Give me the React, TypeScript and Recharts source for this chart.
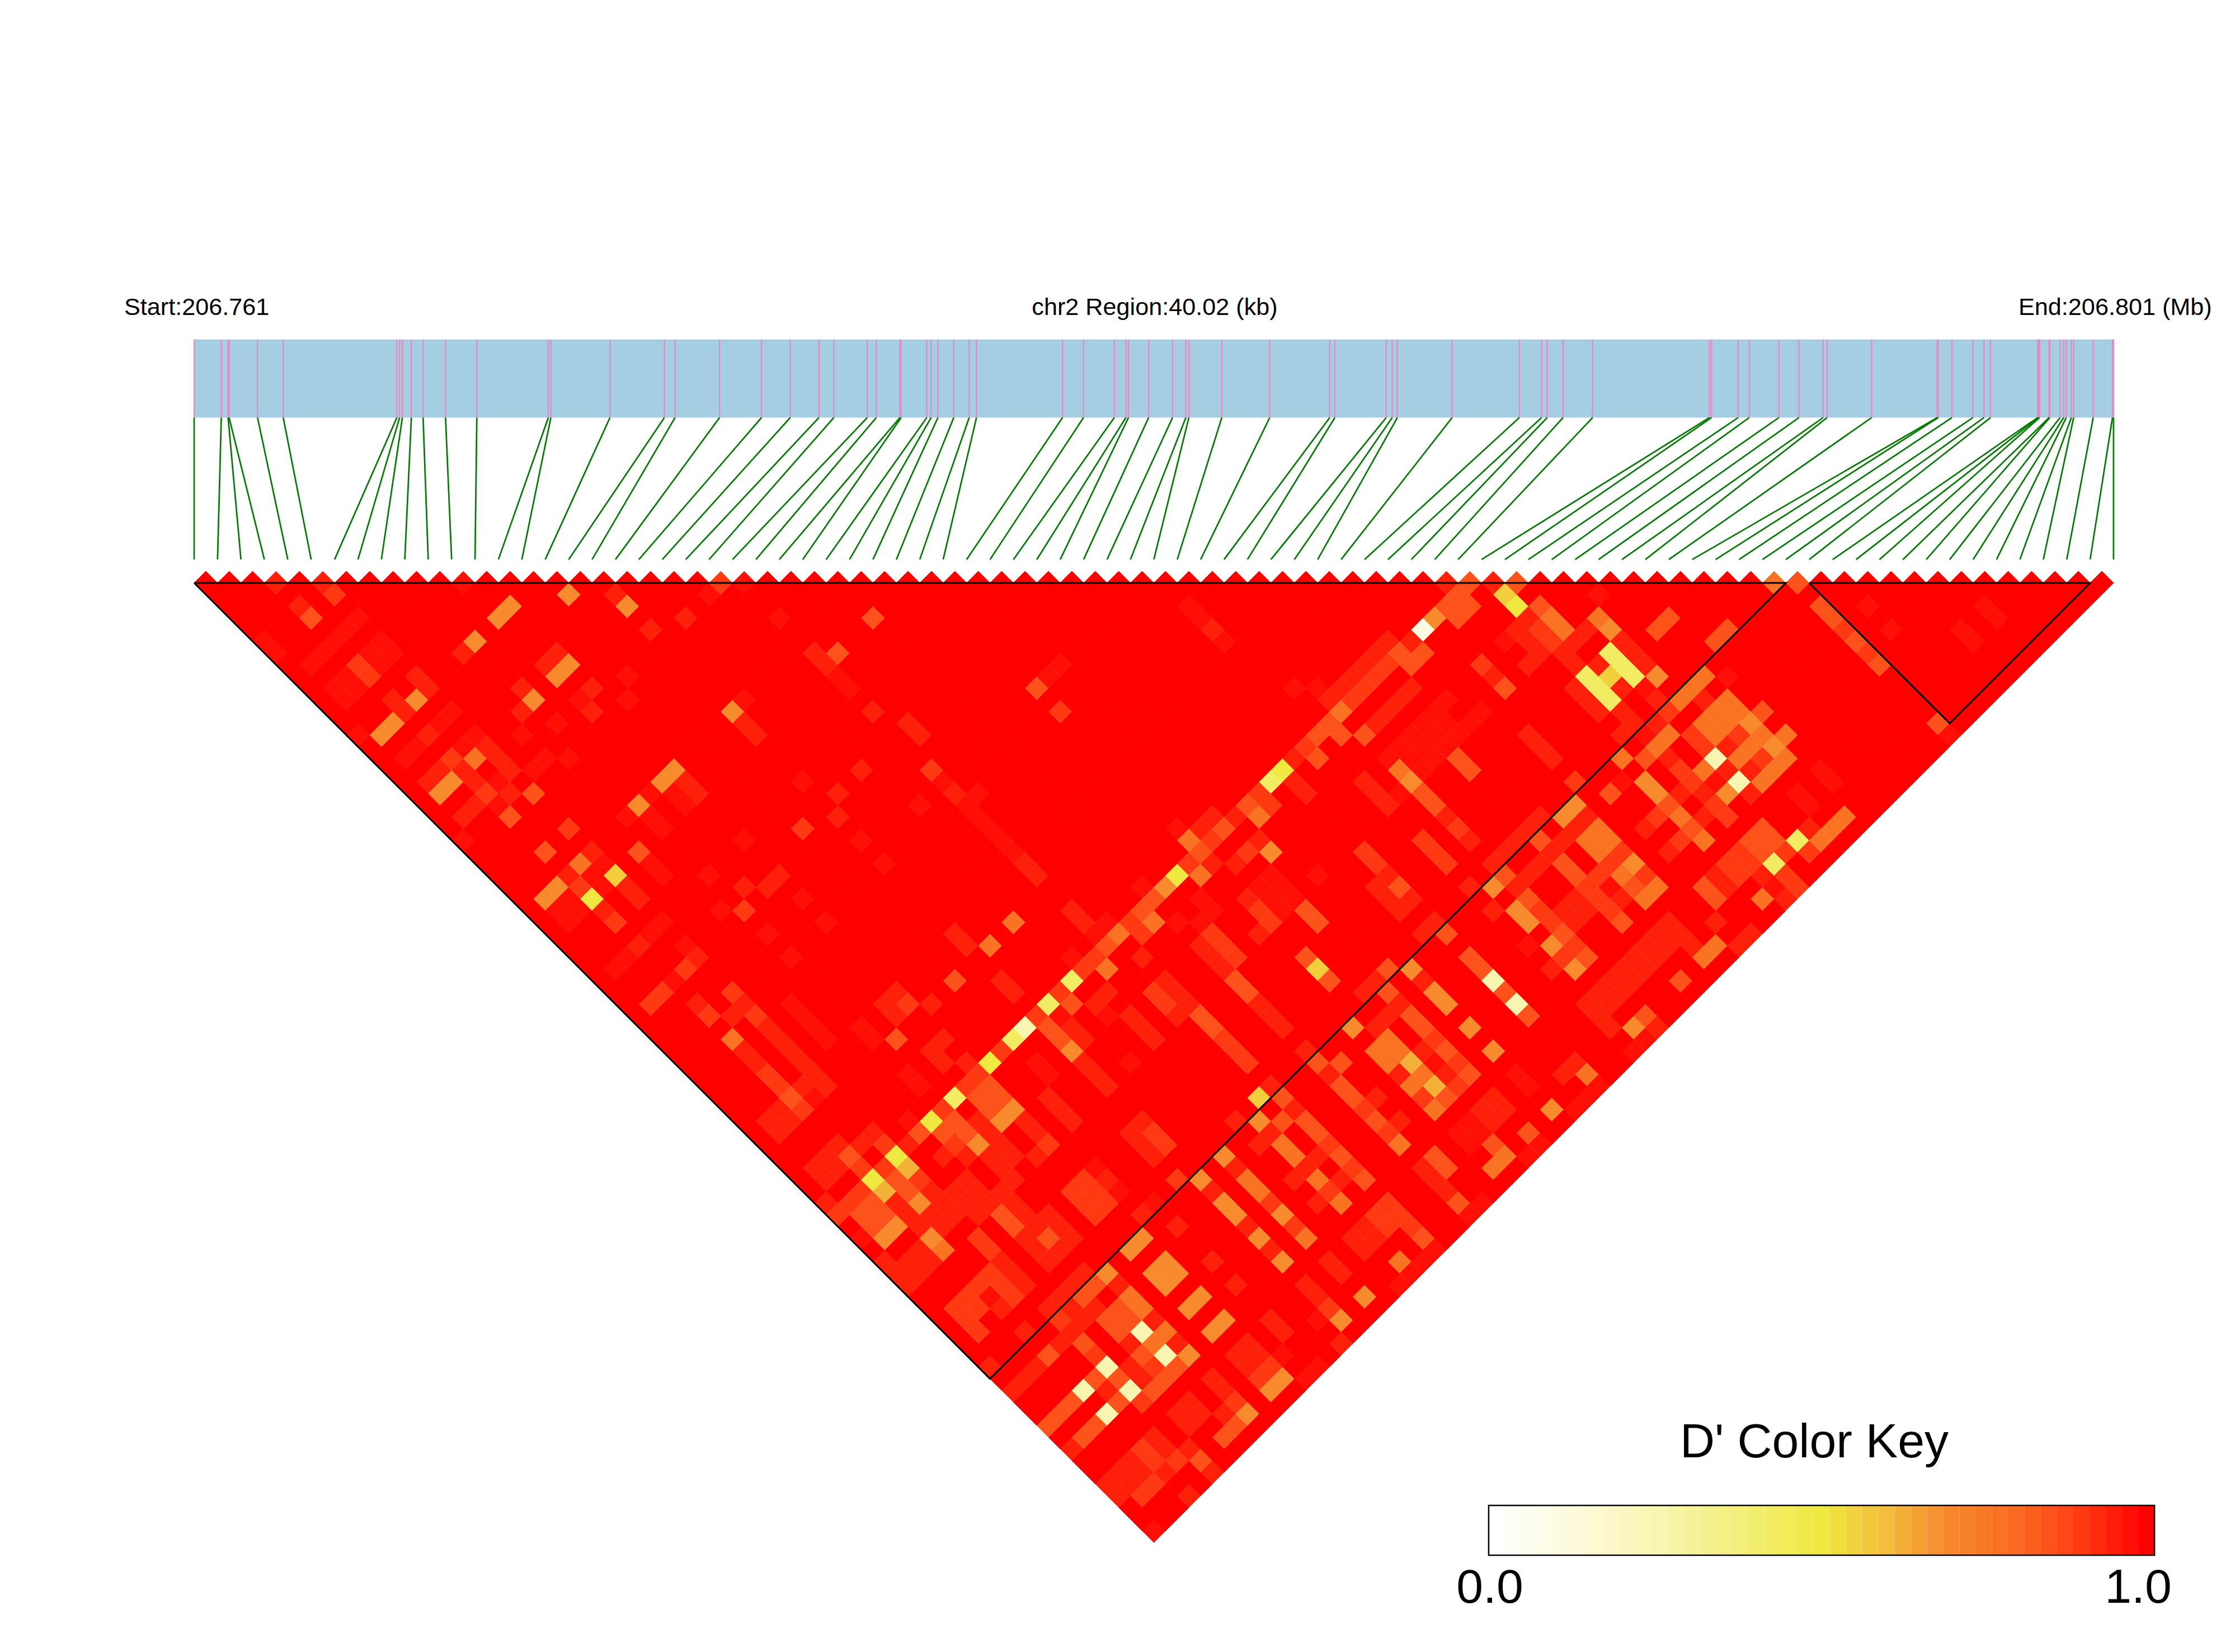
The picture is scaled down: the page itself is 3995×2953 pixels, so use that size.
import { ScatterChart, Scatter, XAxis, YAxis, ReferenceArea, ReferenceLine } from "recharts";

// D' levels
const A = 0.975, B = 0.945, C = 0.9, D = 0.85, E = 0.77, F = 0.69, G = 0.62, H = 0.56, I = 0.5, J = 0.42, K = 0.25, L = 0.1;

// SNP positions in kb from region start
const snpKb = [
  0, 0.566, 0.708, 0.729, 1.322, 1.858, 4.227, 4.284, 4.342, 4.529, 4.774, 5.242, 5.894, 7.385, 7.438, 8.67, 9.804,
  10.027, 10.955, 11.83, 12.429, 13.027, 13.338, 14.035, 14.222, 14.714, 14.741, 15.276, 15.366, 15.508, 15.838, 16.16,
  16.312, 18.106, 18.543, 19.186, 19.427, 19.481, 19.901, 20.4, 20.677, 20.74, 21.427, 22.426, 23.677, 23.784, 24.855,
  24.98, 25.087, 26.23, 27.631, 28.095, 28.211, 28.542, 29.158, 31.594, 31.639, 32.193, 32.424, 33.041, 33.46, 33.965,
  34.048, 34.976, 36.346, 36.364, 36.65, 37.088, 37.318, 37.455, 38.437, 38.455, 38.478, 38.677, 38.691, 38.904, 38.98,
  39.034, 39.14, 39.188, 39.596, 39.998, 40.02,
];
const regionKb = 40.02;

// [a + b, b - a - 1, D'] for every pair that is not 1.0; the rest of the triangle is 1.0
const cellsLeft = [
  [7,0,B],[11,0,B],[23,0,A],[12,1,C],[9,2,B],[10,3,D],[14,3,A],[13,4,A],[12,5,A],[11,6,A],[10,7,A],[6,5,A],[7,6,A],[16,5,A],[17,6,A],[16,7,A],[15,6,A],[14,7,C],[15,8,C],[13,8,A],[12,9,A],[14,9,A],[13,10,A],
  [19,8,B],[20,9,B],[17,10,B],[18,11,B],[19,10,F],[22,11,A],[21,12,A],[20,13,B],[19,14,A],[18,15,A],[17,12,F],[16,13,F],[14,13,A],[27,2,F],[26,3,F],[32,1,F],[36,1,B],[37,2,F],[39,4,B],[42,3,B],[24,5,F],[23,6,B],
  [31,6,B],[30,7,B],[32,7,F],[31,8,F],[28,9,B],[29,10,F],[28,11,B],[34,9,B],[33,10,A],[34,11,B],[37,8,A],[37,10,A],[31,12,A],[28,13,A],[24,13,A],[23,14,A],[25,14,B],[26,15,B],[22,15,C],[24,15,E],[21,16,B],[20,17,B],
  [22,17,F],[21,18,F],[23,16,B],[24,17,B],[25,18,C],[26,17,A],[29,16,A],[30,15,A],[27,16,B],[27,18,B],[29,18,D],[32,15,A],[23,20,B],[24,19,B],[26,19,A],[27,20,D],[23,22,A],[32,21,C],[30,23,D],[38,23,D],[39,24,A],[40,25,A],
  [34,23,B],[35,24,A],[33,24,E],[32,25,B],[31,26,F],[30,27,F],[33,26,C],[34,27,I],[36,25,H],[35,26,A],[34,25,A],[37,26,B],[38,27,B],[35,28,B],[36,29,C],[32,27,A],[31,28,A],[33,28,A],[32,29,A],[40,29,A],[39,30,A],[38,31,B],
  [37,32,A],[36,33,A],[42,31,A],[42,33,C],[41,34,A],[40,35,C],[39,36,C],[41,16,F],[40,17,F],[42,17,B],[41,18,A],[39,18,A],[38,19,F],[37,20,A],[39,20,A],[40,21,A],[42,19,A],[43,18,B],[43,32,B],
];

const cellsUpperMid = [
  [45,0,C],[47,0,A],[44,1,A],[50,3,A],[58,3,D],[53,6,B],[54,7,B],[55,6,D],[55,8,A],[56,9,A],[74,7,A],[73,8,A],[72,9,D],[74,11,C],[85,2,A],[46,11,F],[47,10,A],[47,12,B],[48,13,B],[58,11,B],[61,12,B],[62,13,B],[57,16,B],
  [63,16,C],[64,17,A],[65,18,B],[67,18,A],[66,19,A],[67,20,A],[68,21,A],[69,22,A],[70,23,A],[71,24,B],[72,25,B],[52,17,A],[55,18,B],[55,20,B],[62,19,A],[52,21,C],[47,22,A],[57,22,A],[59,24,A],[44,25,A],[47,26,B],[50,25,B],
  [49,26,B],[52,27,A],[45,28,A],[47,28,C],[54,29,A],[49,30,A],[51,32,A],[70,29,E],[68,31,E],[65,30,B],[66,31,B],[65,34,D],[69,34,B],[70,35,B],[75,28,B],[76,29,B],[78,29,A],[77,30,A],[79,30,E],[78,31,D],[77,32,C],[76,33,C],
  [75,32,A],[78,33,E],[75,34,J],[74,35,C],[73,36,J],[72,37,D],[75,36,D],[78,35,B],[77,36,B],[81,26,A],[82,27,D],[81,28,D],[80,29,C],[81,30,C],[82,29,E],[84,29,A],[83,26,F],[84,25,I],[85,24,C],[85,22,E],[84,21,A],[81,32,B],
  [83,34,B],[82,35,C],[84,35,B],[83,36,B],[85,36,B],[80,37,B],[46,35,C],[47,36,B],[43,36,B],[44,37,C],[46,37,B],[48,37,C],[51,36,A],[52,37,A],[60,35,A],[59,36,B],[61,36,C],[60,37,B],[63,36,B],
];

const cellsUpperRight = [
  [109,0,D],[111,0,B],[113,0,D],[107,0,B],[108,1,D],[107,2,D],[109,2,D],[108,3,D],[106,3,F],[105,4,L],[104,5,B],[105,6,D],[104,7,D],[103,6,D],[102,5,B],[101,6,B],[102,7,C],[100,7,B],[101,8,C],[99,8,B],[100,9,C],[99,10,C],
  [98,11,E],[98,9,B],[97,10,B],[96,9,A],[94,9,A],[97,12,D],[98,13,D],[96,13,D],[95,14,C],[96,15,D],[94,15,B],[93,16,I],[92,17,J],[94,17,B],[95,18,B],[92,19,C],[91,18,C],[90,19,D],[91,20,E],[89,20,B],[87,20,B],[88,21,D],
  [87,22,C],[86,23,D],[87,24,B],[86,21,B],[89,24,B],[90,23,C],[91,22,B],[92,23,F],[86,25,E],[96,25,A],[100,13,D],[101,12,B],[102,11,B],[103,10,B],[104,9,B],[110,7,C],[111,8,B],[112,9,D],[112,1,H],[113,2,I],[114,2,B],[115,2,D],
  [116,3,E],[117,4,E],[114,3,B],[115,4,C],[113,4,B],[112,5,A],[114,5,B],[116,5,C],[115,6,B],[114,7,B],[117,6,B],[118,7,B],[118,5,B],[119,4,B],[120,3,E],[121,4,F],[120,1,A],[125,4,D],[126,3,D],[121,6,J],[122,7,J],[123,8,J],
  [121,8,H],[120,7,B],[119,8,J],[120,9,J],[121,10,J],[118,9,B],[119,10,B],[120,11,B],[122,9,B],[122,11,B],[125,8,F],[124,7,B],[123,6,B],[122,5,B],[124,9,A],[125,10,B],[126,11,C],[127,10,E],[128,9,E],[123,12,B],[122,13,B],
  [124,13,A],[125,12,B],[126,13,E],[125,14,E],[124,15,D],[122,15,E],[128,13,C],[126,15,B],[127,16,B],[128,17,C],[121,18,D],[122,17,A],[124,17,F],[125,18,F],[126,19,D],[127,20,E],[128,21,D],[125,20,C],[124,21,B],[127,18,B],
  [127,22,B],[126,23,B],[118,17,C],[118,19,F],[117,20,F],[119,20,B],[120,21,E],[119,22,E],[121,22,E],[120,23,E],[122,23,C],[123,24,F],[121,24,C],[122,25,E],[124,25,C],[125,26,E],[124,27,E],[123,26,D],[120,25,C],[121,26,A],
  [119,26,C],[117,24,D],[118,25,D],[120,27,C],[121,28,C],[122,29,D],[122,27,B],[115,23,D],[115,20,B],[114,21,B],[113,22,B],[112,23,B],[111,24,B],[115,22,D],[112,25,D],[111,26,F],[109,26,B],[118,21,B],[117,22,B],[116,23,B],
  [115,24,B],[114,25,B],[113,26,B],[114,27,D],[115,28,C],[116,29,C],[117,30,D],[118,31,C],[119,32,D],[118,33,F],[116,31,F],[117,28,B],[118,27,B],[119,28,B],[113,28,F],[114,29,F],[111,28,B],[114,31,A],[116,33,B],[117,32,C],
  [118,29,B],[125,30,B],[124,31,B],[123,32,B],[122,33,B],[121,34,B],[126,29,B],[127,30,B],[128,31,B],[126,31,B],[125,32,B],[124,33,B],[123,34,B],[122,35,B],[120,35,B],[119,36,B],[121,36,B],[127,34,D],
  [87,4,B],[88,5,A],[86,3,A],[92,25,A],[91,26,A],[93,26,A],[92,27,A],[94,27,A],[93,28,A],[90,27,B],[95,28,D],[96,29,D],[91,28,C],[92,29,C],[91,30,B],[87,30,C],[88,31,C],[89,32,C],[86,31,B],[87,32,B],[88,33,B],[89,34,D],
  [90,35,D],[91,36,B],[92,37,B],[86,29,A],[86,27,A],[87,28,A],[95,32,D],[96,33,H],[97,34,D],[102,33,D],[101,34,B],[100,35,B],[102,35,D],[104,33,F],[105,34,B],[106,35,F],[107,36,F],[103,36,D],[109,32,D],[110,33,D],[111,34,K],
  [112,35,D],[113,36,K],[114,37,D],[106,30,B],[105,29,B],[107,30,D],[106,29,B],[105,30,B],[103,26,D],[102,25,B],[101,26,B],[102,27,B],[103,28,B],[104,27,B],[100,23,C],[101,24,C],[105,22,C],[106,23,C],[107,24,C],[103,16,E],
  [104,17,F],[105,18,D],[106,19,D],[107,20,B],[108,21,C],[109,22,B],[102,19,B],[100,17,B],[101,18,B],[103,18,A],[108,16,D],[109,16,D],[108,15,D],[106,11,A],[105,12,A],[104,13,A],[103,14,A],[102,15,A],[107,12,A],[106,13,A],
  [105,14,A],[104,15,A],[106,15,A],[105,16,A],[107,10,A],[108,13,A],[109,12,A],[110,11,A],[107,14,A],[114,13,B],[115,14,B],[116,15,B],
  [135,0,E],[137,0,D],[139,2,D],[140,3,D],[141,4,C],[142,5,D],[143,6,C],[144,7,D],[143,2,A],[145,4,A],[151,4,A],[152,5,A],[153,2,A],[154,3,A],[149,12,D],[150,13,A],[131,4,D],[130,5,D],[129,8,E],[128,9,E],[127,10,E],[131,8,A],
  [129,10,B],[131,10,E],[132,11,E],[130,11,E],[129,12,E],[131,12,E],[130,13,E],[134,11,D],[133,12,F],[132,13,C],[134,13,E],[136,13,E],[133,14,E],[135,14,F],[131,14,B],[130,15,K],[129,16,E],[132,15,E],[134,15,C],[133,16,B],
  [136,15,E],[135,16,E],[134,17,E],[132,17,K],[131,18,F],[133,18,B],[131,16,B],[130,17,A],[128,13,C],[129,14,C],[128,17,C],[129,18,B],[127,16,C],[127,18,B],[130,19,C],[131,20,C],[129,20,B],[127,20,E],[128,21,D],[129,22,E],
  [127,22,C],[137,18,A],[138,19,A],[139,16,A],[140,17,A],[141,20,E],[140,21,E],[139,22,E],[138,21,B],[137,22,J],[138,23,C],[136,23,C],[135,24,J],[136,25,C],[137,26,C],[136,27,B],[134,21,D],[133,22,D],[135,22,D],[134,23,D],
  [132,23,C],[133,24,C],[131,24,C],[132,25,C],[130,25,B],[131,26,B],[129,26,D],[130,27,D],[134,25,B],[135,26,A],[134,27,E],[131,29,B],[128,28,B],[129,29,B],[127,29,B],[128,30,B],[133,30,B],[132,31,B],[130,31,E],[129,32,E],[127,34,D],[130,29,B],
];

const cellsLower = [
  [46,39,E],[47,40,B],[48,41,B],[49,42,C],[50,43,C],[51,44,D],[52,45,C],[48,37,C],[49,38,B],[50,39,B],[51,40,B],[52,41,B],[46,37,B],[53,42,B],[52,43,B],[54,43,B],[53,44,A],[50,45,B],[49,46,B],[51,46,B],[50,47,B],[51,36,A],[52,37,A],
  [53,38,A],[54,39,A],[57,38,A],[58,39,A],[60,39,D],[60,35,B],[59,36,B],[61,36,C],[60,37,B],[63,36,B],[61,42,A],[62,43,A],[64,39,B],[63,40,B],[64,41,B],[66,41,B],[67,42,C],[66,43,C],[65,44,J],[64,45,C],[63,46,I],[62,47,D],
  [61,48,B],[60,49,I],[59,50,C],[58,51,I],[57,52,C],[61,46,A],[59,48,C],[58,47,B],[57,48,B],[56,49,D],[55,48,B],[54,49,B],[53,50,B],[55,50,B],[54,51,B],[57,50,C],[61,50,G],[62,51,C],[60,51,D],[59,52,G],[61,52,D],[62,53,F],
  [63,52,B],[65,46,D],[66,47,D],[67,48,F],[65,48,C],[64,47,D],[66,49,B],[64,49,B],[68,43,D],[67,44,D],[69,44,D],[68,45,D],[70,45,F],[69,46,F],[67,46,B],[68,47,B],[69,48,B],[70,49,B],[71,46,B],[72,47,B],[73,48,C],[72,49,B],
  [66,51,B],[65,52,B],[67,52,B],[64,53,B],[66,53,B],[68,53,B],[63,54,B],[65,54,B],[67,54,B],[64,55,B],[69,52,B],[70,51,B],[69,50,B],[68,49,B],[70,53,B],[71,54,B],[69,54,D],[70,55,D],[73,54,B],[74,55,B],[75,56,B],[72,55,B],
  [71,56,B],[73,56,D],[74,57,B],[72,57,B],[73,58,B],[67,56,C],[68,57,C],[63,56,F],[64,57,E],[62,55,B],[61,54,B],[60,53,B],[60,55,F],[59,56,F],[58,54,D],[57,55,D],[59,54,D],[58,55,D],[57,54,D],[58,53,D],[55,54,C],[56,53,C],
  [54,53,B],[57,56,A],[59,58,B],[62,57,B],[61,58,B],[63,58,B],[62,59,B],[60,59,B],[61,60,B],[68,58,C],[69,58,B],[70,59,B],[71,60,B],[68,59,C],[69,60,C],[70,61,C],[67,60,C],[66,61,C],[65,62,C],[67,62,C],[66,63,C],[67,64,C],
  [69,62,B],[68,61,A],[71,64,B],[68,67,B],[76,59,B],[75,60,B],[74,61,B],[73,62,B],[74,63,C],[75,62,B],[76,61,D],[77,60,D],[78,59,F],[79,60,B],[77,62,B],[76,63,B],[75,64,B],[74,65,B],[73,66,D],[80,61,E],[79,62,D],[78,63,D],
  [80,63,D],[81,62,E],[79,64,D],[81,64,K],[82,63,B],[83,64,E],[83,66,K],[85,66,F],[84,65,B],[82,65,E],[81,66,D],[80,65,B],[82,67,C],[80,67,B],[78,67,K],[77,66,C],[76,65,D],[77,68,D],[76,69,K],[75,70,D],[74,71,D],[73,72,D],
  [78,69,B],[79,68,D],[80,69,K],[79,70,D],[78,71,K],[77,72,D],[81,70,C],[81,68,B],[83,68,D],[82,69,D],[84,67,D],[72,67,B],[71,68,B],[70,69,B],[83,58,F],[82,59,F],[84,59,F],[83,60,F],[81,56,F],[80,57,F],[86,61,F],[85,62,F],
  [88,63,F],[87,64,F],[87,68,B],[88,69,B],[85,70,B],[84,71,B],[86,71,B],[85,72,B],[88,71,B],[84,55,B],[82,53,A],[81,54,B],[84,51,C],[86,51,F],[87,52,B],[88,53,F],[88,49,F],[77,50,A],[76,51,C],[78,51,B],[75,52,C],[77,52,C],
  [79,52,A],[76,53,C],[78,53,C],[77,54,C],[81,46,B],[80,47,B],[82,47,C],[81,48,B],[83,48,C],[82,49,B],[80,41,A],[72,41,A],[73,42,A],[73,44,B],[74,45,B],[75,46,B],[78,35,B],[77,36,B],[78,37,A],[75,36,D],[74,35,C],[73,36,J],
  [71,38,K],[70,39,J],[69,40,C],[68,41,I],[72,37,C],[73,38,D],[74,39,D],[75,40,F],[76,41,B],[77,42,B],[78,43,B],[75,38,B],[76,39,B],[74,37,A],[80,37,B],[81,38,B],[82,39,B],[82,35,C],[83,36,C],[84,37,B],[86,37,D],[87,38,D],
  [88,39,C],[89,40,C],[90,41,C],[84,37,B],[91,36,B],[92,37,B],[93,38,B],[95,40,B],[96,41,D],[98,41,D],[97,42,B],[98,43,D],[99,44,D],[100,45,C],[101,46,D],[102,47,C],[103,48,E],[101,44,B],[103,46,B],[92,43,B],[91,44,H],[93,44,D],
  [94,45,B],[93,46,D],[91,46,F],[89,46,B],[95,46,D],[96,47,D],[97,48,C],[98,49,D],[99,50,C],[100,51,D],[96,49,B],[92,47,B],[91,48,B],[93,48,E],[94,49,E],[95,50,B],[94,51,B],[96,51,E],[98,51,B],[97,52,C],[96,53,B],[98,53,E],
  [89,50,B],[90,51,E],[91,52,E],[92,53,C],[93,54,F],[94,55,C],[95,56,E],[87,52,B],[89,54,F],[90,55,B],[91,56,F],[92,57,B],[93,58,F],[84,51,C],[87,58,B],[89,60,B],[97,58,B],[98,59,B],[95,60,B],[96,61,B],[97,62,C],[98,63,F],[96,63,A],
  [100,61,F],[98,65,B],[92,63,B],[93,64,B],[90,65,B],[89,66,B],[91,66,B],[90,67,B],[93,66,A],[92,67,C],[91,68,C],[93,68,F],[92,69,F],[95,68,A],[96,67,A],[87,68,B],[88,69,B],[89,70,C],[90,71,F],[89,72,D],[88,73,D],[88,71,B],
  [102,53,C],[103,54,C],[101,54,C],[102,55,C],[100,55,B],[99,56,B],[101,56,B],[100,57,B],[104,55,C],[105,56,D],[106,57,A],[103,58,E],[105,58,A],[104,59,A],[103,60,A],[106,49,D],[107,50,D],[105,50,B],[106,51,B],[107,52,B],[108,53,D],
  [109,54,A],[110,53,A],[111,44,B],[110,45,B],[112,45,B],[111,46,B],[108,47,A],[109,46,A],[109,48,A],[110,47,A],[113,42,A],[114,43,A],[111,48,D],[112,49,E],[111,50,E],[114,47,D],[115,48,A],[114,49,A],[116,45,F],[119,44,A],[118,45,A],
  [118,41,B],[117,42,B],[119,42,E],[120,43,A],[119,36,B],[120,37,B],[121,38,B],[120,35,B],[121,36,B],[124,37,D],[123,38,F],[124,39,A],[123,40,A],[125,38,B],[109,38,F],[111,40,F],[106,35,F],[107,36,F],[111,34,K],[113,36,K],[112,35,D],
  [114,37,D],[102,35,D],[103,36,B],[104,37,D],[105,38,D],[106,39,C],[107,40,D],[108,41,C],[109,42,D],[102,37,B],[101,38,B],[99,38,F],[102,39,E],[101,40,E],[103,40,E],[102,41,E],[104,41,G],[103,42,B],[105,42,E],[104,43,E],
  [105,40,B],[106,41,A],[107,42,B],[106,43,G],[105,44,C],[107,44,D],[106,45,E],[108,43,C],
  [82,73,B],[83,74,B],[81,74,C],[82,75,C],[80,75,B],[79,76,B],[81,76,B],[78,77,B],[80,77,B],[79,78,B],[81,78,C],[82,77,C],[83,76,B],[84,75,C],[85,74,B],[86,75,D],[87,76,B],[85,78,B],[82,81,A],[85,70,B],[75,74,B],[76,73,D],[77,72,D],
];

// colour ramp of the key, from value to colour
const rampValues = [0, 0.25, 0.5, 0.6, 0.69, 0.8, 0.9, 1];
const rampColors = ["#ffffff", "#f8f5b0", "#efe83f", "#f4bc3c", "#f68a2c", "#fa6a20", "#ff3a12", "#ff0000"];

function colorOf(d: number) {
  let i = 0;
  while (i < rampValues.length - 2 && d > rampValues[i + 1]) i++;
  const t = (d - rampValues[i]) / (rampValues[i + 1] - rampValues[i]);
  const c = (s: string, o: number) => parseInt(s.slice(o, o + 2), 16);
  const mix = (o: number) => Math.round(c(rampColors[i], o) * (1 - t) + c(rampColors[i + 1], o) * t);
  return `rgb(${mix(1)},${mix(3)},${mix(5)})`;
}

const W = 3995;
const HT = 2953;
const unit = 20.92; // px per half SNP step
const originX = 347;
const originY = 1042;

const lookup = new Map<string, number>();
[...cellsLeft, ...cellsUpperMid, ...cellsUpperRight, ...cellsLower].forEach(([s, l, d]) => lookup.set(`${s},${l}`, d));

const n = snpKb.length;
const allCells: { x: number; y: number; d: number }[] = [];
for (let a = 0; a < n - 1; a++) {
  for (let b = a + 1; b < n; b++) {
    const x = a + b;
    const y = b - a - 1;
    allCells.push({ x, y, d: lookup.get(`${x},${y}`) ?? 1 });
  }
}
const fullCells = allCells.filter((c) => c.d === 1);
const lowCells = allCells.filter((c) => c.d !== 1);

const kbToX = (kb: number) => (kb / regionKb) * 2 * (n - 1);

// LD blocks as SNP ranges
const blocks = [[0, 68], [69, 81]];
const blockLine = (from: number, to: number) => [
  { x: from * 2, y: 0 },
  { x: to * 2, y: 0 },
  { x: from + to, y: to - from },
  { x: from * 2, y: 0 },
];

const bandTop = -20.8;
const bandBottom = -14.125;
const tickEnd = -2;

const keyValues = Array.from({ length: 41 }, (_, i) => i / 40);
const keyLeft = 110.61;
const keyRight = 167.5;
const keyTop = 78.83;
const keyBottom = 83.08;

function Diamond(props: any) {
  const { cx, cy, payload } = props;
  const fill = colorOf(payload.d);
  return (
    <path
      d={`M${cx} ${cy - unit}L${cx + unit} ${cy}L${cx} ${cy + unit}L${cx - unit} ${cy}Z`}
      fill={fill}
      stroke={fill}
      strokeWidth={payload.d === 1 ? 1 : 0.5}
    />
  );
}

const font = "'Liberation Sans', Arial, sans-serif";

export default function App() {
  return (
    <div style={{ position: "absolute", left: 0, top: 0, width: W, height: HT, background: "#fff" }}>
      <ScatterChart width={W} height={HT} margin={{ top: 0, right: 0, bottom: 0, left: 0 }}>
        <XAxis type="number" dataKey="x" hide domain={[-originX / unit, (W - originX) / unit]} allowDataOverflow />
        <YAxis type="number" dataKey="y" hide reversed width={0} domain={[-originY / unit, (HT - originY) / unit]} allowDataOverflow />

        <ReferenceArea x1={0} x2={kbToX(regionKb)} y1={bandTop} y2={bandBottom} fill="#a6cee3" fillOpacity={1} stroke="none" />
        {snpKb.map((kb, i) => (
          <ReferenceLine
            key={`p${i}`}
            segment={[{ x: kbToX(kb), y: bandTop }, { x: kbToX(kb), y: bandBottom }]}
            stroke="#e78ac3"
            strokeWidth={2.4}
          />
        ))}
        {snpKb.map((kb, i) => (
          <ReferenceLine
            key={`g${i}`}
            segment={[{ x: kbToX(kb), y: bandBottom }, { x: i * 2, y: tickEnd }]}
            stroke="#007a00"
            strokeWidth={2.7}
          />
        ))}

        <Scatter data={fullCells} shape={Diamond} isAnimationActive={false} />
        <Scatter data={lowCells} shape={Diamond} isAnimationActive={false} />

        {blocks.map(([from, to], i) => (
          <Scatter
            key={`b${i}`}
            data={blockLine(from, to)}
            line={{ stroke: "#000", strokeWidth: 3 }}
            shape={() => <g />}
            isAnimationActive={false}
          />
        ))}

        {keyValues.map((v, i) => (
          <ReferenceArea
            key={`k${i}`}
            x1={keyLeft + ((keyRight - keyLeft) * i) / keyValues.length}
            x2={keyLeft + ((keyRight - keyLeft) * (i + 1)) / keyValues.length}
            y1={keyTop}
            y2={keyBottom}
            fill={colorOf(v)}
            fillOpacity={1}
            stroke="none"
          />
        ))}
        <ReferenceArea x1={keyLeft} x2={keyRight} y1={keyTop} y2={keyBottom} fill="none" stroke="#000" strokeWidth={2.5} />

        <text x={222} y={563} fontFamily={font} fontSize={43.2}>Start:206.761</text>
        <text x={2064} y={563} fontFamily={font} fontSize={43.2} textAnchor="middle">chr2 Region:40.02 (kb)</text>
        <text x={3608} y={563} fontFamily={font} fontSize={43.2}>End:206.801 (Mb)</text>
        <text x={3243} y={2605} fontFamily={font} fontSize={86} textAnchor="middle">D' Color Key</text>
        <text x={2663} y={2865} fontFamily={font} fontSize={86} textAnchor="middle">0.0</text>
        <text x={3822} y={2865} fontFamily={font} fontSize={86} textAnchor="middle">1.0</text>
      </ScatterChart>
    </div>
  );
}
